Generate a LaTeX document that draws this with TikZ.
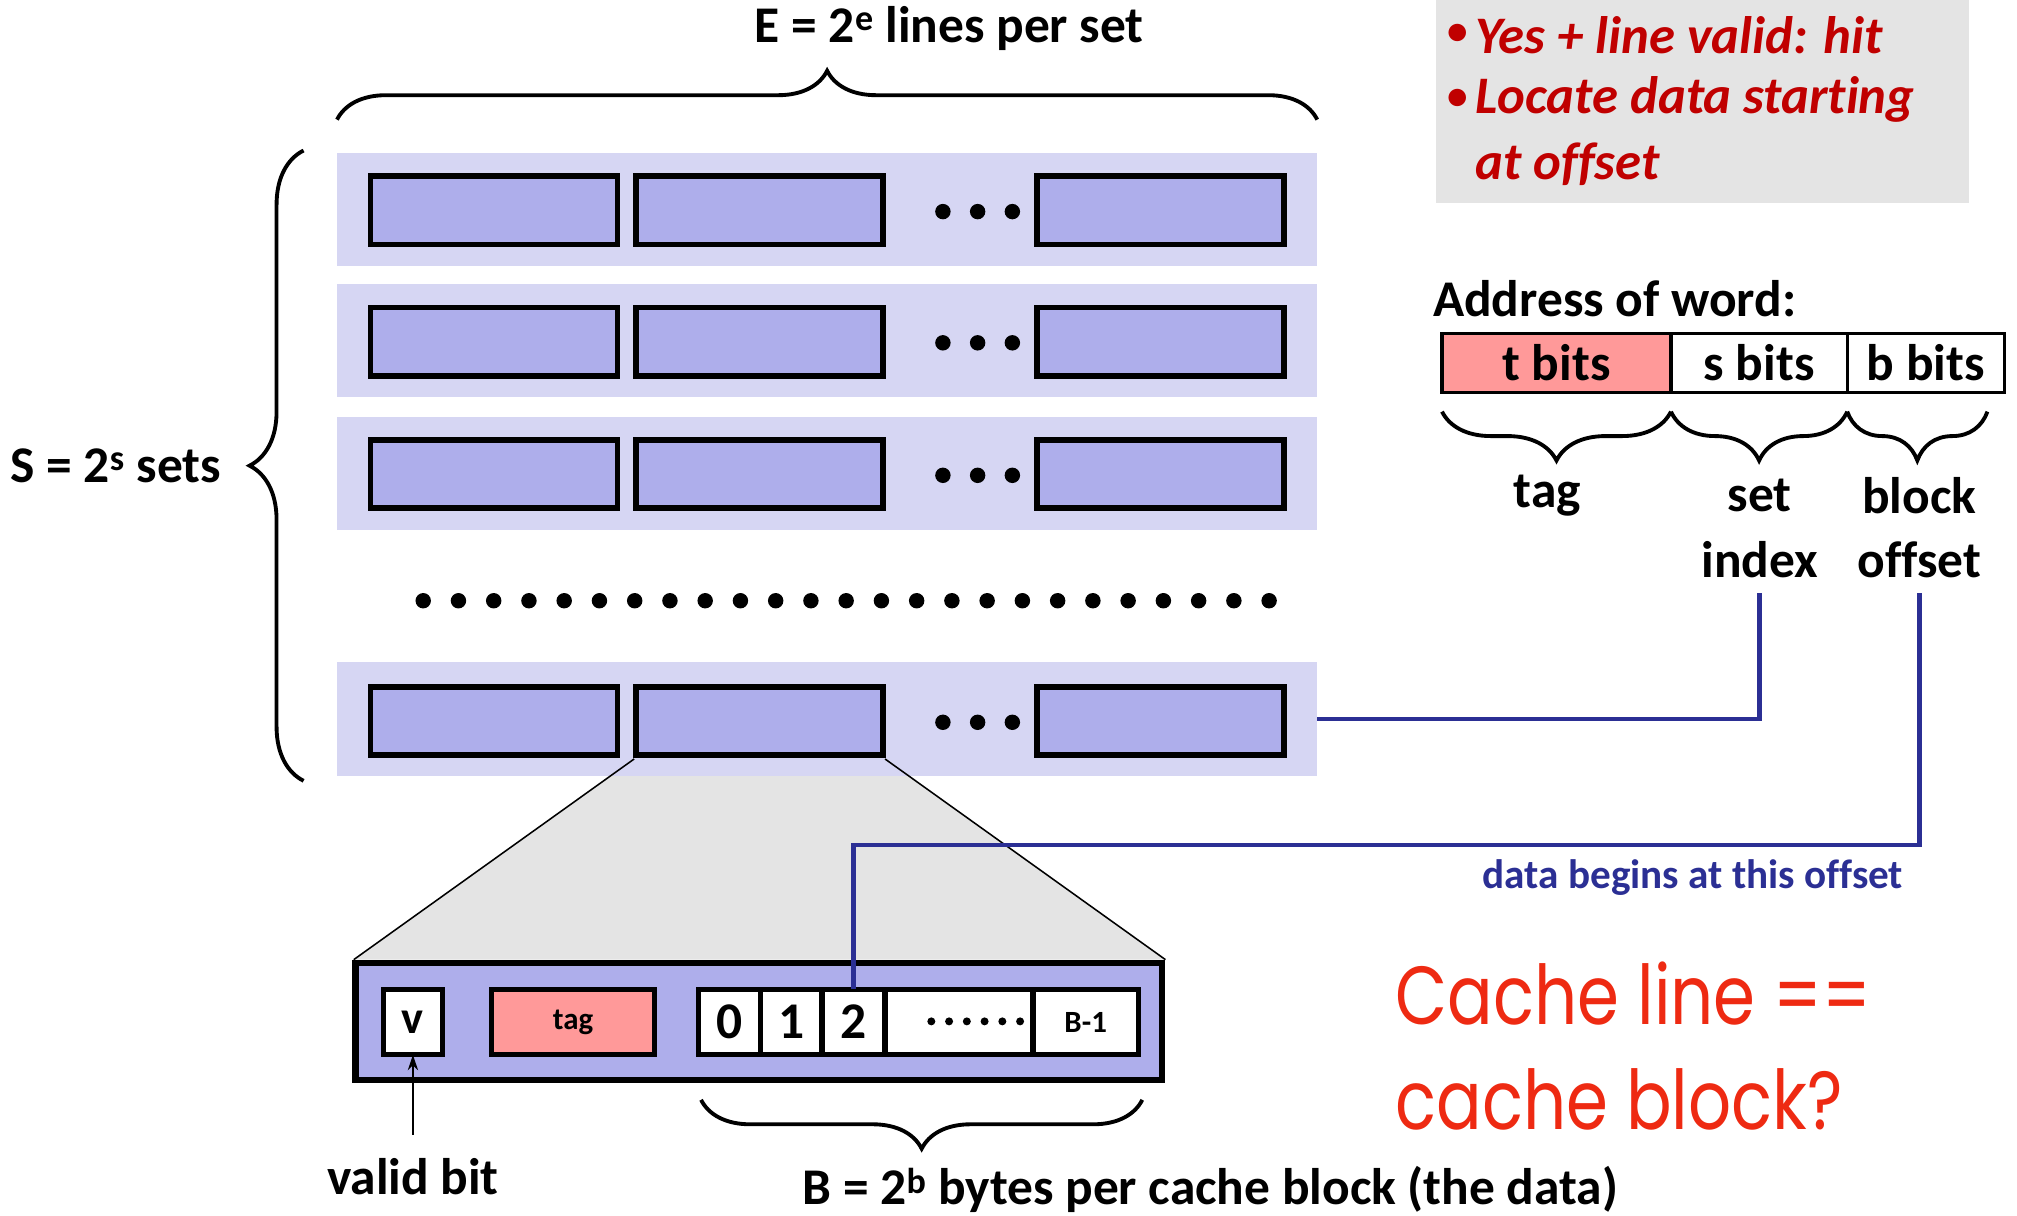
\documentclass[tikz,border=0pt]{standalone}
\usepackage{fontspec}
\setmainfont{Carlito}[Ligatures={NoCommon}]
\newfontfamily\comicfont{Poppins}[FakeStretch=0.82]
\usetikzlibrary{decorations.pathreplacing,arrows.meta}
\definecolor{setbg}{HTML}{D6D6F3}
\definecolor{linefill}{HTML}{AEAEEB}
\definecolor{pinkc}{HTML}{FF9999}
\definecolor{graybox}{HTML}{E4E4E4}
\definecolor{darkred}{HTML}{C00000}
\definecolor{brightred}{HTML}{EE2A12}
\definecolor{navy}{HTML}{2B2F94}
\newcommand\fsA{\fontsize{40}{48}\selectfont\bfseries}
\newcommand\fsB{\fontsize{41}{48}\selectfont\bfseries}
\tikzset{
  setrow/.style={fill=setbg, draw=none, minimum width=762pt, minimum height=88pt, inner sep=0pt, outer sep=0pt},
  linebox/.style={draw=black, line width=4.5pt, fill=linefill, minimum width=192pt, minimum height=53pt, inner sep=0pt, outer sep=0pt},
  cell/.style={draw=black, line width=4pt, fill=white, minimum height=51pt, inner sep=0pt, outer sep=0pt},
  addr/.style={draw=black, line width=2.5pt, minimum height=46pt, inner sep=0pt, outer sep=0pt},
  bigbrace/.style={decorate, decoration={brace, amplitude=38pt}, line width=3pt},
  blk/.style={inner sep=0pt, outer sep=0pt},
  dotc/.style={fill=black, draw=none},
  navyline/.style={draw=navy, line width=3.6pt},
}
\begin{document}
\begin{tikzpicture}[x=1pt,y=-1pt]
\useasboundingbox (0,0) rectangle (1568,945);

% gray red-text box
\node[fill=graybox, minimum width=415pt, minimum height=158pt, inner sep=0pt] (note) at (1323.5,79) {};
\node[blk, text=darkred, font=\fontsize{32}{40}\selectfont\bfseries] (b1) at (1133,27) {\textbullet};
\node[blk, text=darkred, font=\fsB\itshape, anchor=west] (t1) at (1147,27) {Yes + line valid: hit};
\node[blk, text=darkred, font=\fontsize{32}{40}\selectfont\bfseries] (b2) at (1133,77) {\textbullet};
\node[blk, text=darkred, font=\fsB\itshape, anchor=west] (t2) at (1147,77) {Locate data starting};
\node[blk, text=darkred, font=\fsB\itshape, anchor=west] (t3) at (1147,128) {at offset};

% top label and brace
\node[blk, font=\fsA] (Elab) at (738,22) {E = 2\textsuperscript{e} lines per set};
\coordinate (tbL) at (262,93);
\coordinate (tbR) at (1024,93);
\draw[bigbrace] (tbL) -- (tbR);

% trapezoid zoom
\coordinate (zA) at (493,590);
\coordinate (zB) at (688,590);
\coordinate (zC) at (906,746);
\coordinate (zD) at (275,746);
\fill[graybox] (zA) -- (zB) -- (zC) -- (zD) -- cycle;

% sets
\foreach \i/\y in {1/163,2/265,3/368,4/559}{
  \node[setrow] (row\i) at (643,\y) {};
}
\draw[line width=1.2pt] (zA) -- (zD);
\draw[line width=1.2pt] (zB) -- (zC);
\foreach \i/\y in {1/163.5,2/265.5,3/368.5,4/560.5}{
  \node[linebox] (la\i) at (384,\y) {};
  \node[linebox] (lb\i) at (590.5,\y) {};
  \node[linebox] (lc\i) at (902,\y) {};
  \foreach \dx in {733,760,787}{
    \fill[dotc] (\dx,\y+1) circle (6pt);
  }
}
\foreach \k in {0,...,24}{
  \fill[dotc] (329+\k*27.4,467) circle (6pt);
}

% left brace
\coordinate (lbB) at (236,607);
\coordinate (lbT) at (236,117);
\draw[decorate, decoration={brace, amplitude=42pt}, line width=3pt] (lbB) -- (lbT);
\node[blk, font=\fsA] (Slab) at (90,362) {S = 2\textsuperscript{s} sets};

% expanded line
\node[draw=black, line width=5pt, fill=linefill, minimum width=627pt, minimum height=91pt, inner sep=0pt] (big) at (590,794) {};
\node[cell, minimum width=46pt] (v) at (321,794.5) {\fontsize{36}{40}\selectfont\bfseries v};
\node[cell, fill=pinkc, minimum width=127pt] (tagbox) at (445.5,794.5) {\fontsize{24}{28}\selectfont\bfseries tag};
\node[cell, minimum width=48pt] (c0) at (567,794.5) {\fsA 0};
\node[cell, minimum width=48pt] (c1) at (615,794.5) {\fsA 1};
\node[cell, minimum width=49pt] (c2) at (663.5,794.5) {\fsA 2};
\node[cell, minimum width=115pt] (cd) at (745.5,794.5) {};
\node[cell, minimum width=82pt] (cB) at (844,794.5) {\fontsize{24}{28}\selectfont\bfseries B-1};
\foreach \k in {0,...,5}{
  \fill[dotc] (724+\k*13.8,794) circle (3.1pt);
}

% valid bit
\coordinate (vArr) at (321,882);
\draw[line width=1.2pt, -{Stealth[length=12pt,width=8pt]}] (vArr) -- (v.south);
\node[blk, font=\fsA] (vlab) at (321,915) {valid bit};

% bottom brace
\coordinate (bbR) at (888,855);
\coordinate (bbL) at (545,855);
\draw[bigbrace] (bbR) -- (bbL);
\node[blk, font=\fsA] (Blab) at (941,925) {B = 2\textsuperscript{b} bytes per cache block (the data)};

% address of word
\node[blk, font=\fsA, anchor=west] (addrlab) at (1114,232) {Address of word:};
\node[addr, fill=pinkc, minimum width=178pt] (tb) at (1210,282) {\fsA t bits};
\node[addr, fill=white, minimum width=137pt] (sb) at (1367.5,282) {\fsA s bits};
\node[addr, fill=white, minimum width=122pt] (bb) at (1497,282) {\fsA b bits};
\coordinate (ab0) at (1121,320);
\coordinate (ab1) at (1299,320);
\coordinate (ab2) at (1436,320);
\coordinate (ab3) at (1545,320);
\draw[bigbrace] (ab1) -- (ab0);
\draw[bigbrace] (ab2) -- (ab1);
\draw[bigbrace] (ab3) -- (ab2);
\node[blk, font=\fsA] (taglab) at (1203,385) {tag};
\node[blk, font=\fsA] (setlab) at (1368,385) {set};
\node[blk, font=\fsA] (idxlab) at (1368,435) {index};
\node[blk, font=\fsA] (blklab) at (1492,385) {block};
\node[blk, font=\fsA] (offlab) at (1492,435) {offset};

% connectors
\draw[navyline] ([yshift=-12pt]idxlab.south) |- (row4.east);
\coordinate (offbend) at (1492,657);
\draw[navyline] ([yshift=-12pt]offlab.south) -- (offbend) -| (c2.north);
\node[blk, text=navy, font=\fontsize{32}{38}\selectfont\bfseries] (dlab) at (1316,682) {data begins at this offset};

% cache line question
\node[blk, text=brightred, font=\comicfont\fontsize{64}{80}\selectfont, anchor=west] (q1) at (1085,772) {Cache line ==};
\node[blk, text=brightred, font=\comicfont\fontsize{64}{80}\selectfont, anchor=west] (q2) at (1085,855) {cache block?};
\end{tikzpicture}
\end{document}
